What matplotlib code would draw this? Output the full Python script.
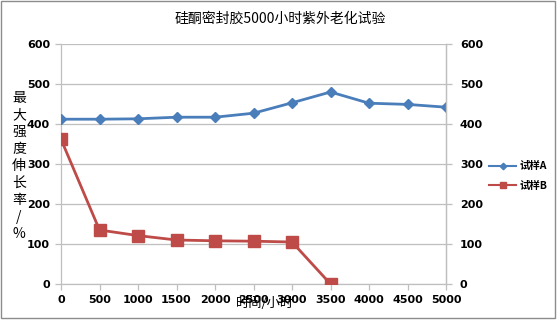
import matplotlib
matplotlib.use("Agg")
import matplotlib.pyplot as plt
from matplotlib.patches import Rectangle

plt.rcParams['font.family'] = ['Noto Sans CJK SC', 'DejaVu Sans']

hours = [0, 500, 1000, 1500, 2000, 2500, 3000, 3500, 4000, 4500, 5000]
sample_a = [412, 412, 413, 417, 417, 427, 453, 480, 452, 449, 442]
hours_b = [0, 500, 1000, 1500, 2000, 2500, 3000, 3500]
sample_b = [362, 135, 121, 110, 108, 107, 105, 0]
y_ticks = [0, 100, 200, 300, 400, 500, 600]
x_ticks = hours

title = "硅酮密封胶5000小时紫外老化试验"
x_label = "时间/小时"
y_label = "最大强度伸长率/%"

blue = "#4A7EBB"
red = "#BE4B48"
grid_c = "#BFBFBF"

W, H = 559, 322
fig = plt.figure(figsize=(W / 100, H / 100), dpi=100)
ax = fig.add_axes([61 / W, 1 - 284 / H, (446 - 61) / W, (284 - 44) / H])

ax.plot(hours, sample_a, color=blue, lw=2, marker="D", ms=5.5, label="试样A", zorder=3)
ax.plot(hours_b, sample_b, color=red, lw=2, marker="s", ms=8, label="试样B", zorder=3)

ax.set_xlim(0, 5000)
ax.set_ylim(0, 600)
ax.set_xticks(x_ticks)
ax.set_yticks(y_ticks)
ax.yaxis.grid(True, color=grid_c, lw=0.9)
ax.set_axisbelow(True)
ax.spines["top"].set_visible(False)
for s in ["left", "right", "bottom"]:
    ax.spines[s].set_color(grid_c)
    ax.spines[s].set_linewidth(0.9)

tick_font = dict(family="DejaVu Sans", weight="bold", size=8)
ax.tick_params(axis="both", direction="out", color=grid_c, length=4, width=0.9, pad=4)
ax.set_xticklabels([str(v) for v in x_ticks], **tick_font)
ax.set_yticklabels([str(v) for v in y_ticks], **tick_font)

ax2 = ax.twinx()
ax2.set_ylim(0, 600)
ax2.set_yticks(y_ticks)
ax2.set_yticklabels([str(v) for v in y_ticks], **tick_font)
ax2.tick_params(axis="y", direction="out", color=grid_c, length=4, width=0.9, pad=6)
for s in ["top", "left", "bottom"]:
    ax2.spines[s].set_visible(False)
ax2.spines["right"].set_color(grid_c)
ax2.spines["right"].set_linewidth(0.9)

fig.text(280 / W, 1 - 19 / H, title, ha="center", va="center", fontsize=10)
fig.text(265 / W, 1 - 303 / H, x_label, ha="center", va="center", fontsize=9.5)
fig.text(19 / W, 1 - 166 / H, "\n".join(y_label), ha="center", va="center",
         fontsize=10, linespacing=1.28)

leg = fig.legend(loc="center left", bbox_to_anchor=(480 / W, 1 - 176 / H),
                 frameon=False, prop={"family": ["Noto Sans CJK SC", "DejaVu Sans"],
                                      "size": 7.5, "weight": "bold"},
                 handlelength=2.6, labelspacing=0.9, handletextpad=0.3,
                 markerscale=0.6)
for line in leg.get_lines():
    line.set_linewidth(1.5)

fig.patches.append(Rectangle((1 / W, 1 - 318 / H), 554 / W, 317 / H,
                             transform=fig.transFigure, fill=False,
                             edgecolor="#8C8C8C", lw=1))

fig.savefig("out.png", dpi=100)
